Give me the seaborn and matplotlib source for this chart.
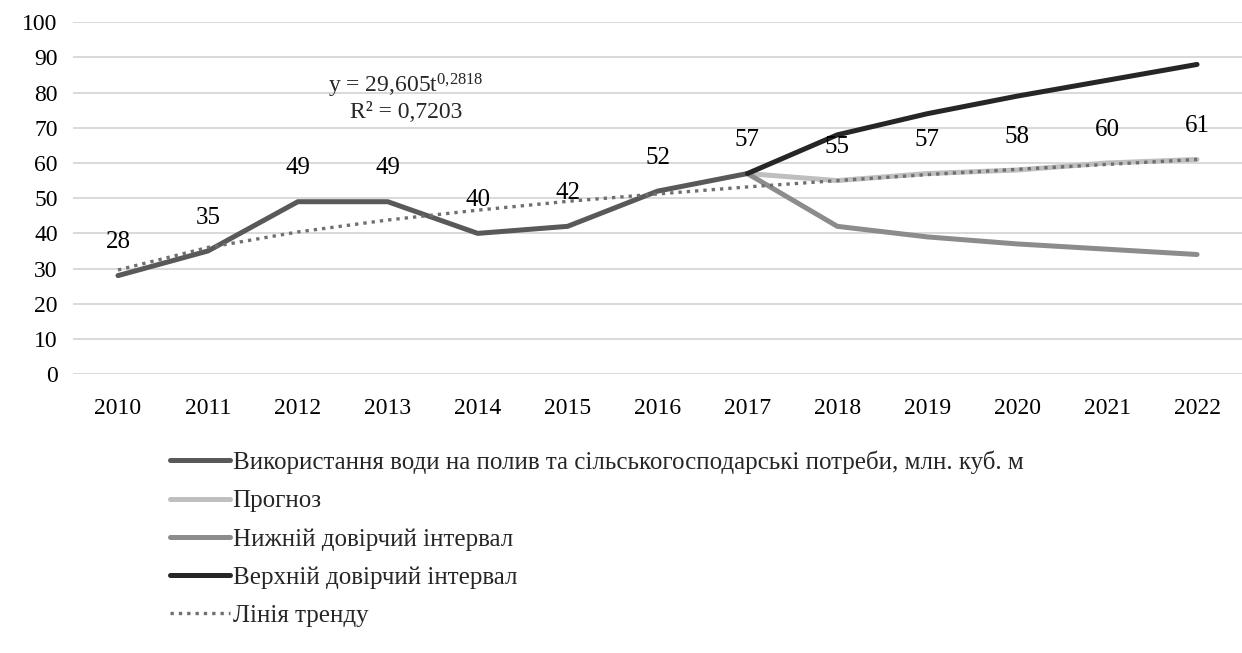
import numpy as np
import pandas as pd
import matplotlib
matplotlib.use("Agg")
import matplotlib.pyplot as plt
import seaborn as sns

# data
years = list(range(2010, 2023))
actual_years = [2010, 2011, 2012, 2013, 2014, 2015, 2016, 2017]
actual = [28, 35, 49, 49, 40, 42, 52, 57]
fc_years = [2017, 2018, 2019, 2020, 2021, 2022]
forecast = [57, 55, 57, 58, 60, 61]
lower = [57, 42, 39, 37, 35.5, 34]
upper = [57, 68, 74, 79, 83.5, 88]
trend = [29.6, 36.0, 40.4, 43.8, 46.6, 49.1, 51.2, 53.2, 55.0, 56.7, 58.2, 59.6, 61.0]

labels = [
    "Використання води на полив та сільськогосподарські потреби, млн. куб. м",
    "Прогноз",
    "Нижній довірчий інтервал",
    "Верхній довірчий інтервал",
    "Лінія тренду",
]

sns.set_style("white")
plt.rcParams["font.family"] = ["Liberation Serif", "DejaVu Serif"]
plt.rcParams["mathtext.fontset"] = "custom"
plt.rcParams["mathtext.rm"] = "Liberation Serif"
plt.rcParams["mathtext.it"] = "Liberation Serif"

fig = plt.figure(figsize=(12.42, 6.53), dpi=100)
ax = fig.add_axes([0.0588, 0.427, 0.9412, 0.539])

df_act = pd.DataFrame({"year": actual_years, "val": actual})
df_fc = pd.DataFrame({"year": fc_years, "fc": forecast, "lo": lower, "up": upper})
df_tr = pd.DataFrame({"year": years, "val": trend})

sns.lineplot(data=df_act, x="year", y="val", ax=ax, color="#595959", lw=3.6,
             label=labels[0], zorder=4)
sns.lineplot(data=df_fc, x="year", y="fc", ax=ax, color="#bfbfbf", lw=3.6,
             label=labels[1], zorder=3)
sns.lineplot(data=df_fc, x="year", y="lo", ax=ax, color="#8c8c8c", lw=3.6,
             label=labels[2], zorder=3)
sns.lineplot(data=df_fc, x="year", y="up", ax=ax, color="#262626", lw=3.6,
             label=labels[3], zorder=5)
sns.lineplot(data=df_tr, x="year", y="val", ax=ax, color="#6f6f6f", lw=2.4,
             linestyle=(0, (1, 1.5)), label=labels[4], zorder=4)

# data labels
lbl_x = actual_years[:-1] + fc_years
lbl_y = actual[:-1] + forecast
for x, y in zip(lbl_x, lbl_y):
    ax.annotate(f"{y:g}", (x, y), xytext=(0, 24), textcoords="offset points",
                ha="center", va="center", fontsize=18, color="black", zorder=6)

# trend equation
ax.text(2013.2, 82.0, r"y = 29,605t$^{\mathrm{0{,}2818}}$", ha="center", va="center",
        fontsize=17)
ax.text(2013.2, 74.4, "R² = 0,7203", ha="center", va="center", fontsize=17)

ax.set_xlim(2009.5, 2022.5)
ax.set_ylim(0, 100)
ax.set_xticks(years)
ax.set_yticks(range(0, 101, 10))
ax.tick_params(axis="both", length=0, labelsize=17, colors="black")
ax.tick_params(axis="x", pad=17)
ax.tick_params(axis="y", pad=11)
ax.set_xlabel("")
ax.set_ylabel("")
ax.grid(axis="y", color="#d9d9d9", lw=1.4)
ax.set_axisbelow(True)
for s in ax.spines.values():
    s.set_visible(False)

handles, labs = ax.get_legend_handles_labels()
ax.legend_.remove()
fig.legend(handles, labs, loc="upper left", bbox_to_anchor=(0.137, 0.31),
           frameon=False, fontsize=18, handlelength=2.4, handletextpad=0.1,
           labelspacing=0.63, borderpad=0, borderaxespad=0)

fig.savefig("out.png", dpi=100)
